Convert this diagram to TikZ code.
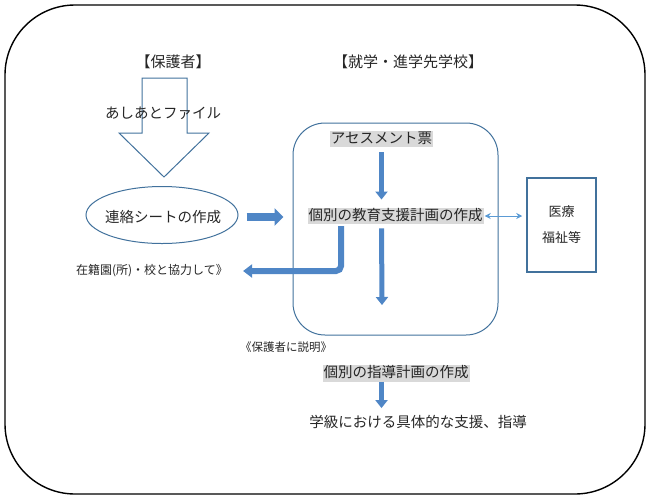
\documentclass[tikz,border=0pt]{standalone}
\usepackage{fontspec}
\newfontfamily\jp{Noto Sans CJK JP}
\usetikzlibrary{arrows.meta,shapes.geometric}
\definecolor{edgeblue}{HTML}{41719C}
\definecolor{fillblue}{HTML}{4F86C6}
\definecolor{thinblue}{HTML}{5B9BD5}
\definecolor{hl}{HTML}{D9D9D9}
\definecolor{ink}{HTML}{262626}
\tikzset{
  txt/.style={inner sep=0pt, text=ink, font=\jp\fontsize{14.5}{16}\selectfont},
  hlbox/.style={txt, fill=hl, inner xsep=1pt, inner ysep=0pt, text height=12.5pt, text depth=4pt},
  downarrow/.style={draw=fillblue, line width=5pt, -{Triangle[width=12pt,length=8pt]}},
  fatarrow/.style={draw=fillblue, line width=8pt, -{Triangle[width=17pt,length=9pt]}},
  larrow/.style={draw=fillblue, line width=6pt, rounded corners=5pt, -{Triangle[width=13pt,length=9pt]}},
}
\begin{document}
\begin{tikzpicture}[x=1pt,y=-1pt]
\useasboundingbox (0,0) rectangle (650,499);
\draw[line width=1.4pt, rounded corners=70pt] (5,5) rectangle (645,494);

% headers
\node[txt, font=\jp\fontsize{15}{16}\selectfont] (hogosha) at (173,62) {【保護者】};
\node[txt, font=\jp\fontsize{15}{16}\selectfont] (school head) at (408,62) {【就学・進学先学校】};

% hollow arrow
\draw[edgeblue, line width=1pt, line join=miter]
  (142,78) -- (187,78) -- (187,133) -- (209,133) -- (164,177) -- (119,133) -- (142,133) -- cycle;
\node[txt] (ashiato) at (163,113) {あしあとファイル};

% ellipse
\node[ellipse, draw=edgeblue, line width=1pt, minimum width=152pt, minimum height=57pt, inner sep=0pt] (renraku) at (162,215) {};
\node[txt] (renrakutxt) at (163,217) {連絡シートの作成};

% school box
\node[draw=edgeblue, line width=1pt, rounded corners=32pt, minimum width=205pt, minimum height=212pt] (school) at (395.5,229) {};

\node[hlbox] (asses) at (381.5,139) {アセスメント票};
\node[hlbox] (kyoiku) at (395.5,216) {個別の教育支援計画の作成};
\node[hlbox] (shido) at (396,373.5) {個別の指導計画の作成};
\node[txt] (gakkyu) at (418,422) {学級における具体的な支援、指導};

\node[txt, font=\jp\fontsize{12}{14}\selectfont] (zaiseki) at (152,271) {在籍園(所)・校と協力して》};
\node[txt, font=\jp\fontsize{11.5}{13}\selectfont] (setsumei) at (286,347) {《保護者に説明》};

% medical box
\node[draw=edgeblue, line width=1.5pt, minimum width=69pt, minimum height=94pt, inner sep=0pt,
      txt, align=center, font=\jp\fontsize{13}{26}\selectfont] (iryo) at (561.5,225) {医療\\福祉等};

% arrows
\draw[fatarrow, shorten <=8pt, shorten >=9pt] (renraku.east |- renrakutxt) -- (renrakutxt -| school.west);
\draw[downarrow, shorten <=5pt, shorten >=8pt] (asses.south) -- (asses.south |- kyoiku.north);
\coordinate (a2end) at (382,305);
\draw[downarrow, shorten <=4pt] (asses.south |- kyoiku.south) -- (a2end);
\draw[downarrow, shorten >=7pt] (asses.south |- shido.south) -- (asses.south |- gakkyu.north);
\coordinate (lstart) at (341,226);
\draw[larrow, shorten >=15pt] (lstart) |- (zaiseki.east);
\draw[thinblue, line width=1pt, {Stealth[length=6pt,width=6pt]}-{Stealth[length=6pt,width=6pt]}, shorten >=4pt, shorten <=1pt]
  (kyoiku.east) -- (kyoiku.east -| iryo.west);
\end{tikzpicture}
\end{document}
